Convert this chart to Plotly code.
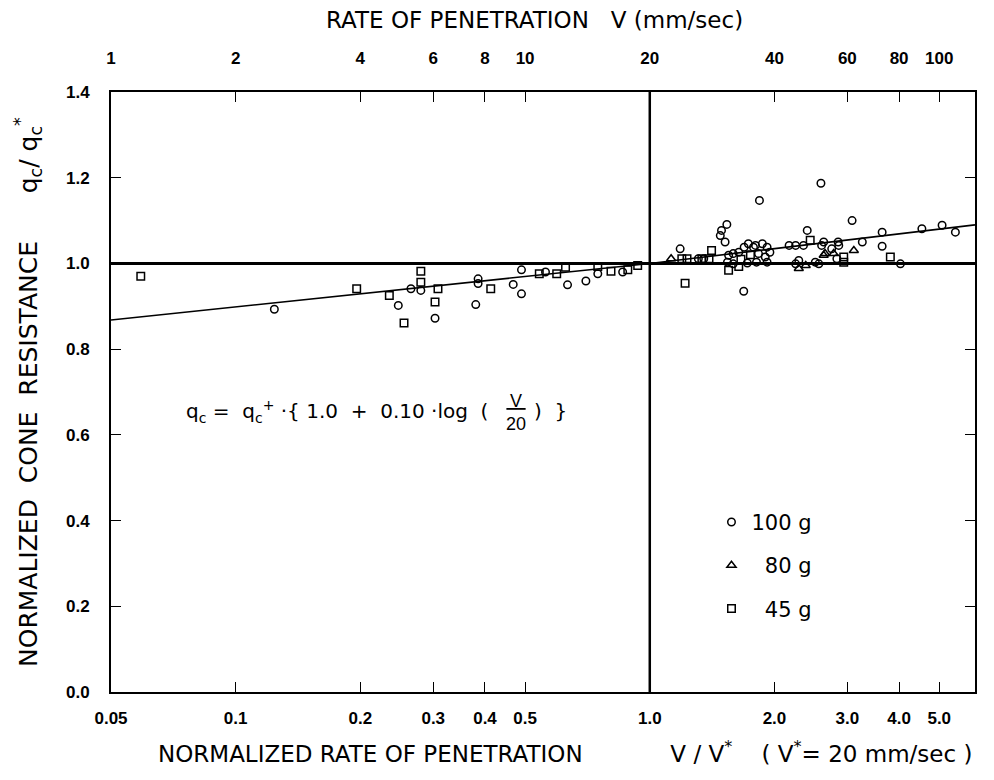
import plotly.graph_objects as go
import math

# ---------------- data ----------------
g100_x = [0.124, 0.247, 0.265, 0.280, 0.303, 0.380, 0.385, 0.385, 0.468, 0.490, 0.490,
          0.633, 0.701, 0.749, 0.56, 0.86,
          2.59, 1.84, 1.184, 1.535, 1.49, 1.48, 1.52, 1.686, 2.40, 2.63, 2.51, 2.75,
          2.17, 2.25, 3.08, 3.64, 3.64, 3.26, 4.03, 4.54, 5.08, 5.47, 2.85, 1.55,
          1.59, 1.64, 1.69, 1.73, 1.78, 1.54, 1.59, 1.72, 1.80, 1.87, 1.92, 1.95,
          1.83, 1.90, 1.81, 1.92, 2.35, 2.56, 2.25, 2.29, 2.60, 2.86, 2.83, 1.31, 1.35]
g100_y = [0.893, 0.902, 0.941, 0.937, 0.872, 0.904, 0.964, 0.953, 0.951, 0.929, 0.985,
          0.950, 0.959, 0.976, 0.980, 0.980,
          1.187, 1.147, 1.034, 1.091, 1.077, 1.065, 1.050, 0.935, 1.077, 1.050, 1.003, 1.034,
          1.042, 1.042, 1.100, 1.073, 1.040, 1.050, 0.999, 1.081, 1.089, 1.073, 1.050, 1.019,
          1.023, 1.026, 1.038, 1.046, 1.038, 1.003, 0.999, 1.001, 1.042, 1.046, 1.038, 1.026,
          1.023, 1.015, 1.003, 1.003, 1.042, 0.999, 0.999, 1.007, 1.042, 1.042, 1.011, 1.011, 1.011]

g80_x = [1.126, 2.29, 2.38, 2.63, 2.65, 3.11, 2.78]
g80_y = [1.011, 0.988, 0.995, 1.019, 1.023, 1.030, 1.023]

g45_x = [0.059, 0.196, 0.235, 0.280, 0.280, 0.303, 0.413, 0.308, 0.541, 0.596, 0.626,
         0.749, 0.806, 0.885, 0.935, 0.255,
         1.217, 1.41, 1.336, 1.39, 1.23, 2.44, 3.81, 1.55, 1.64, 2.94, 2.94, 1.195, 1.66, 1.75]
g45_y = [0.970, 0.941, 0.925, 0.982, 0.956, 0.910, 0.941, 0.941, 0.976, 0.976, 0.991,
         0.993, 0.982, 0.985, 0.995, 0.861,
         0.954, 1.030, 1.011, 1.011, 1.011, 1.054, 1.015, 0.984, 0.993, 1.015, 1.003, 1.011, 1.010, 1.020]

fit_left_x = [0.05, 1.0]
fit_left_y = [0.868, 1.0]
fit_right_x = [1.0, 6.1]
fit_right_y = [1.0, 1.09]

ref_y = 1.0           # horizontal reference q_c/q_c* = 1
ref_v = 20            # V* = 20 mm/sec (vertical line, top axis)

x_range = [0.05, 6.1]
v_range = [1, 122]
y_range = [0, 1.4]

x_ticks = [0.05, 0.1, 0.2, 0.3, 0.4, 0.5, 1.0, 2.0, 3.0, 4.0, 5.0]
x_ticktext = ["0.05", "0.1", "0.2", "0.3", "0.4", "0.5", "1.0", "2.0", "3.0", "4.0", "5.0"]
v_ticks = [1, 2, 4, 6, 8, 10, 20, 40, 60, 80, 100]
v_ticktext = ["1", "2", "4", "6", "8", "10", "20", "40", "60", "80", "100"]
y_ticks = [0.0, 0.2, 0.4, 0.6, 0.8, 1.0, 1.2, 1.4]

FONT = "Liberation Sans, Arial, Helvetica, sans-serif"
TICKFONT = "Liberation Sans Narrow, Liberation Sans, Arial, sans-serif"
WIDE = "DejaVu Sans, Verdana, sans-serif"

fig = go.Figure()

# reference lines
fig.add_trace(go.Scatter(x=x_range, y=[ref_y, ref_y], mode="lines",
                         line=dict(color="black", width=3), showlegend=False, hoverinfo="skip"))
fig.add_trace(go.Scatter(x=[ref_v, ref_v], y=y_range, mode="lines", xaxis="x2",
                         line=dict(color="black", width=2.5), showlegend=False, hoverinfo="skip"))
# fitted lines
fig.add_trace(go.Scatter(x=fit_left_x, y=fit_left_y, mode="lines",
                         line=dict(color="black", width=1.6), showlegend=False, hoverinfo="skip"))
fig.add_trace(go.Scatter(x=fit_right_x, y=fit_right_y, mode="lines",
                         line=dict(color="black", width=1.6), showlegend=False, hoverinfo="skip"))

# data
fig.add_trace(go.Scatter(x=g100_x, y=g100_y, mode="markers", name="100 g", legendgroup="a",
                         marker=dict(symbol="circle-open", size=7.5, color="black",
                                     line=dict(width=1.5, color="black"))))
fig.add_trace(go.Scatter(x=g80_x, y=g80_y, mode="markers", name="\u200780 g", legendgroup="b",
                         marker=dict(symbol="triangle-up-open", size=8, color="black",
                                     line=dict(width=1.5, color="black"))))
fig.add_trace(go.Scatter(x=g45_x, y=g45_y, mode="markers", name="\u200745 g", legendgroup="c",
                         marker=dict(symbol="square-open", size=7.5, color="black",
                                     line=dict(width=1.5, color="black"))))

axis_common = dict(showgrid=False, zeroline=False, linecolor="black", linewidth=2,
                   ticks="inside", ticklen=10, tickwidth=1.3, tickcolor="black",
                   tickfont=dict(family=TICKFONT, size=17, color="black", weight="bold"))

# page body has an 8px margin, so the figure is shifted by 8px
fig.update_layout(
    width=986, height=772,
    margin=dict(l=103, r=19, t=84, b=88),
    paper_bgcolor="white", plot_bgcolor="white",
    font=dict(family=FONT, color="black"),
    xaxis=dict(type="log", range=[math.log10(x_range[0]), math.log10(x_range[1])],
               tickvals=x_ticks, ticktext=x_ticktext, ticklabelstandoff=10,
               **axis_common),
    xaxis2=dict(type="log", range=[math.log10(v_range[0]), math.log10(v_range[1])],
                overlaying="x", side="top", anchor="y",
                tickvals=v_ticks, ticktext=v_ticktext, ticklabelstandoff=19,
                **axis_common),
    yaxis=dict(range=y_range, tickvals=y_ticks, tickformat=".1f", mirror="ticks",
               ticklabelstandoff=16, **axis_common),
    legend=dict(x=0.695, y=0.317, xanchor="left", yanchor="top",
                bgcolor="rgba(0,0,0,0)", tracegroupgap=13,
                font=dict(family=WIDE, size=21, color="black"),
                itemsizing="trace"),
)

# axis titles / equation as text
fig.add_annotation(xref="paper", yref="paper", x=0.49, y=1.0, yshift=72, yanchor="middle",
                   showarrow=False,
                   text="RATE OF PENETRATION \u00a0\u00a0V (mm/sec)",
                   font=dict(family=WIDE, size=23, color="black"))
fig.add_annotation(xref="paper", yref="paper", x=0.525, y=0.0, yshift=-60, yanchor="middle",
                   showarrow=False,
                   text="NORMALIZED RATE OF PENETRATION" + "\u00a0" * 12 +
                        "V / V<sup>*</sup> \u00a0\u00a0\u00a0( V<sup>*</sup>= 20 mm/sec )",
                   font=dict(family=WIDE, size=23, color="black"))
fig.add_annotation(xref="paper", yref="paper", x=0.0, xshift=-83, y=0.5,
                   xanchor="center", yanchor="middle", showarrow=False,
                   textangle=-90,
                   text="NORMALIZED \u00a0CONE \u00a0RESISTANCE" + "\u00a0" * 6 +
                        "q<sub>c</sub>/ q<sub>c</sub><sup>*</sup>",
                   font=dict(family=WIDE, size=25, color="black"))
# equation: left part, fraction, right part
fig.add_annotation(xref="paper", yref="paper", x=0.4387, y=0.468, xanchor="right", showarrow=False,
                   text="q<sub>c</sub>\u00a0=\u00a0 q<sub>c</sub><sup>+</sup>\u00a0·{ 1.0 \u00a0+ \u00a00.10\u00a0·log \u00a0(",
                   font=dict(family=WIDE, size=20, color="black"))
fig.add_annotation(xref="paper", yref="paper", x=0.4688, y=0.465, showarrow=False,
                   text="<u>\u2009V\u2009</u><br>20",
                   font=dict(family=FONT, size=18, color="black"))
fig.add_annotation(xref="paper", yref="paper", x=0.487, y=0.468, xanchor="left", showarrow=False,
                   text=")\u00a0\u00a0}",
                   font=dict(family=WIDE, size=20, color="black"))

fig.write_html("out.html")
